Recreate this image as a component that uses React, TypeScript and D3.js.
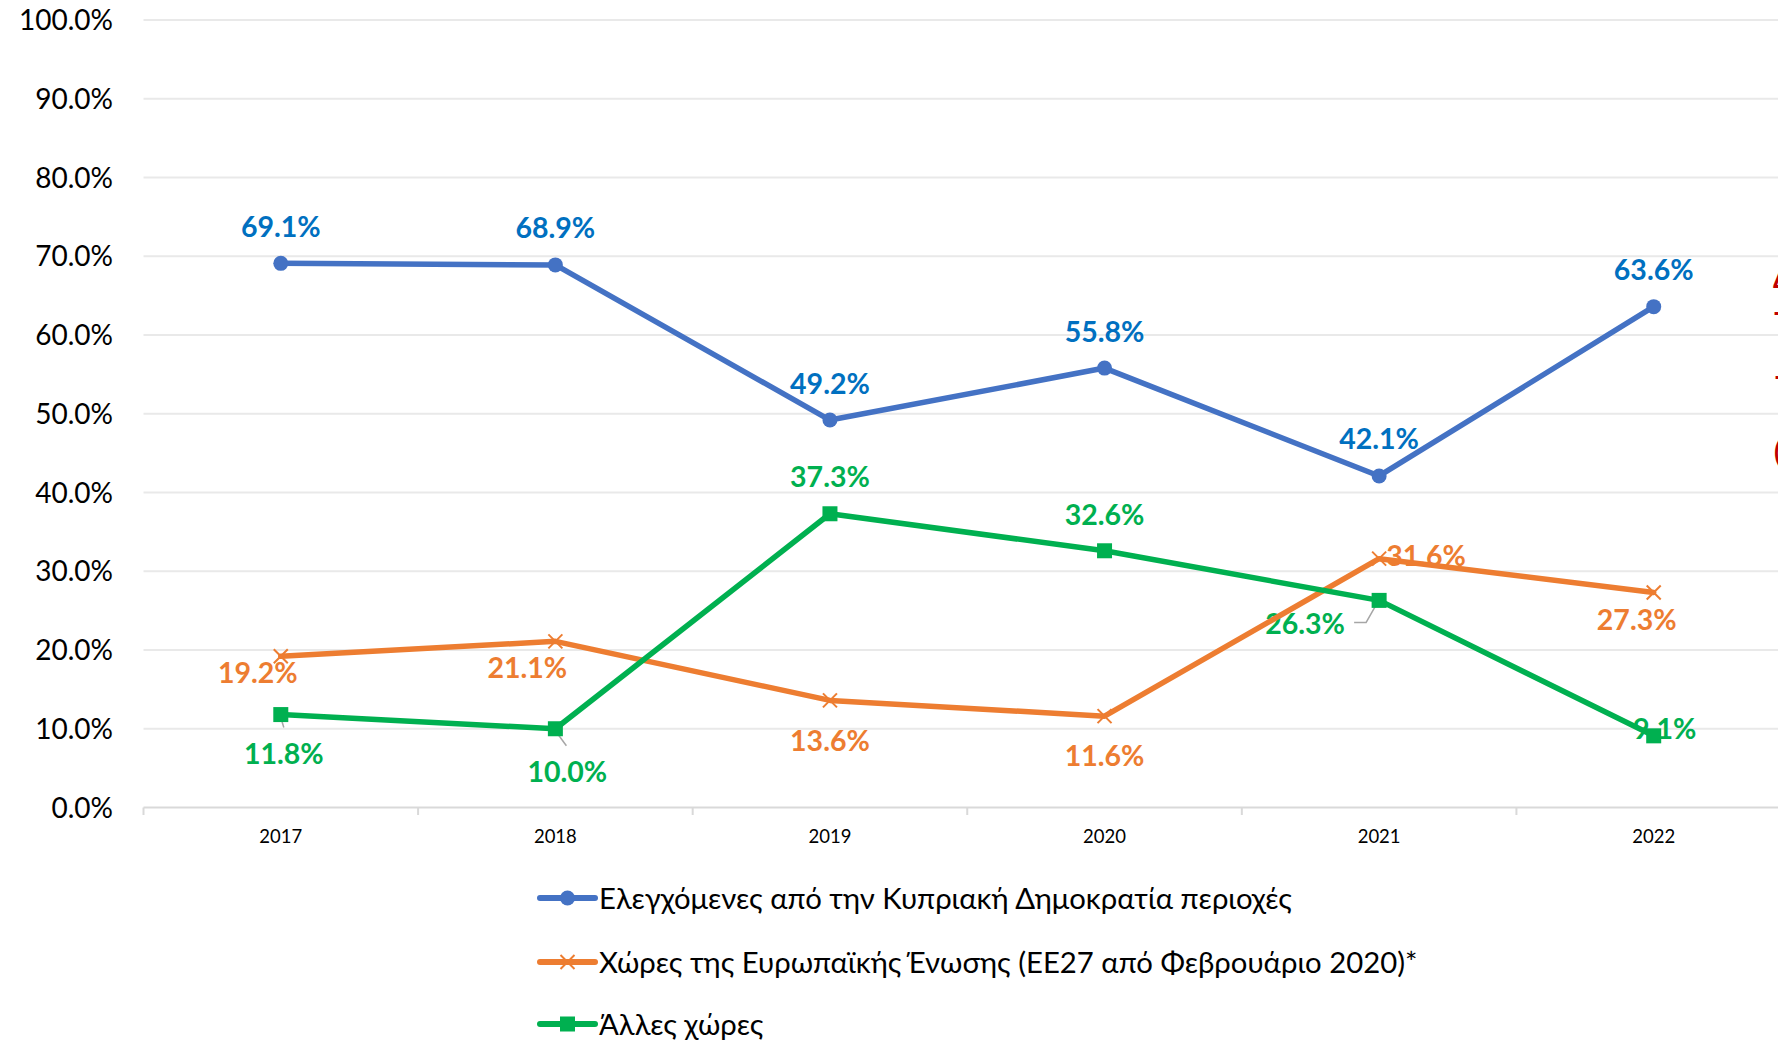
import React from "react";
import * as d3 from "d3";

const years = ["2017", "2018", "2019", "2020", "2021", "2022"];
const yTicks = [0, 0.1, 0.2, 0.3, 0.4, 0.5, 0.6, 0.7, 0.8, 0.9, 1.0];

const seriesNames = [
  "Ελεγχόμενες από την Κυπριακή Δημοκρατία περιοχές",
  "Χώρες της Ευρωπαϊκής Ένωσης (ΕΕ27 από Φεβρουάριο 2020)*",
  "Άλλες χώρες",
];
const controlledAreas = [0.691, 0.689, 0.492, 0.558, 0.421, 0.636];
const euCountries = [0.192, 0.211, 0.136, 0.116, 0.316, 0.273];
const otherCountries = [0.118, 0.1, 0.373, 0.326, 0.263, 0.091];

// layout (label center offsets from point, px)
const blueOffsets = [[0, -36.5], [0, -36.5], [0, -36.5], [0, -36.5], [0, -36.5], [0, -36.5]];
const orangeOffsets = [[-23, 17], [-28, 27], [0, 41], [0, 40], [47, -3], [-17, 27]];
const greenOffsets = [[3, 39], [12, 43], [0, -37], [0, -36], [-74, 24], [11, -7]];
const greenLeaders: (number[][] | null)[] = [
  [[0, 3], [3, 13]],
  [[0, 2], [11, 17]],
  null,
  null,
  [[-1, 1], [-13, 22], [-25, 22]],
  null,
];

const W = 1778;
const H = 1041;
const FONT = "Lato, 'Open Sans', sans-serif";

export default function App() {
  const x = d3.scaleBand<string>().domain(years).range([143.5, 1791]);
  const y = d3.scaleLinear().domain([0, 1]).range([807.5, 20]);
  const cx = (i: number) => (x(years[i]) as number) + x.bandwidth() / 2;
  const fmt = d3.format(".1%");
  const line = d3
    .line<number>()
    .x((_, i) => cx(i))
    .y((d) => y(d));

  const series = [
    { name: seriesNames[0], values: controlledAreas, color: "#4472C4", labelColor: "#0070C0", marker: "circle", offsets: blueOffsets },
    { name: seriesNames[1], values: euCountries, color: "#ED7D31", labelColor: "#ED7D31", marker: "x", offsets: orangeOffsets },
    { name: seriesNames[2], values: otherCountries, color: "#00B050", labelColor: "#00B050", marker: "square", offsets: greenOffsets },
  ];

  const marker = (kind: string, px: number, py: number, color: string, key: string) => {
    if (kind === "circle") return <circle key={key} cx={px} cy={py} r={7.5} fill={color} />;
    if (kind === "square") return <rect key={key} x={px - 7.5} y={py - 7.5} width={15} height={15} fill={color} />;
    const s = 7;
    return (
      <g key={key} stroke={color} strokeWidth={2}>
        <line x1={px - s} y1={py - s} x2={px + s} y2={py + s} />
        <line x1={px - s} y1={py + s} x2={px + s} y2={py - s} />
      </g>
    );
  };

  const legendY = [898, 962, 1024];

  return (
    <svg
      width={W}
      height={H}
      style={{ position: "absolute", left: 0, top: 0, display: "block", background: "#fff" }}
      fontFamily={FONT}
    >
      {/* gridlines */}
      {yTicks.slice(1).map((t) => (
        <line key={"g" + t} x1={143.5} x2={1791} y1={y(t)} y2={y(t)} stroke="#E9E9E9" strokeWidth={2} />
      ))}
      {/* y tick labels */}
      {yTicks.map((t) => (
        <text key={"yt" + t} x={113} y={y(t) + 10} textAnchor="end" fontSize={28} fill="#000">
          {fmt(t)}
        </text>
      ))}
      {/* x axis */}
      <line x1={143.5} x2={1791} y1={807.5} y2={807.5} stroke="#D9D9D9" strokeWidth={2} />
      {years.map((yr) => (
        <line key={"tk" + yr} x1={x(yr)} x2={x(yr)} y1={807.5} y2={815} stroke="#D9D9D9" strokeWidth={2} />
      ))}
      {years.map((yr, i) => (
        <text key={"xl" + yr} x={cx(i)} y={843} textAnchor="middle" fontSize={18.5} fill="#000">
          {yr}
        </text>
      ))}

      {/* leader lines */}
      {greenLeaders.map((ld, i) =>
        ld ? (
          <polyline
            key={"ld" + i}
            points={ld.map(([dx, dy]) => `${cx(i) + dx},${y(otherCountries[i]) + dy}`).join(" ")}
            fill="none"
            stroke="#A6A6A6"
            strokeWidth={1.5}
          />
        ) : null
      )}

      {/* data labels */}
      {series.map((s, si) =>
        s.values.map((v, i) => (
          <text
            key={"dl" + si + "-" + i}
            x={cx(i) + s.offsets[i][0]}
            y={y(v) + s.offsets[i][1] + 10}
            textAnchor="middle"
            fontSize={28.5}
            fontWeight={700}
            fill={s.labelColor}
          >
            {fmt(v)}
          </text>
        ))
      )}

      {/* lines & markers */}
      {series.map((s, si) => (
        <g key={"s" + si}>
          <path d={line(s.values) as string} fill="none" stroke={s.color} strokeWidth={5.5} strokeLinejoin="round" strokeLinecap="round" />
          {s.values.map((v, i) => marker(s.marker, cx(i), y(v), s.color, "m" + si + "-" + i))}
        </g>
      ))}

      {/* cut-off red annotation at right edge */}
      <g fill="#C00000" fontSize={28} fontWeight={700}>
        <text x={1773} y={288}>Δ</text>
        <text x={1773} y={322}>-</text>
        <text x={1774} y={386}>-</text>
        <text x={1774} y={462}>(</text>
      </g>

      {/* legend */}
      {series.map((s, si) => (
        <g key={"lg" + si}>
          <line x1={540} x2={595} y1={legendY[si]} y2={legendY[si]} stroke={s.color} strokeWidth={6} strokeLinecap="round" />
          {marker(s.marker, 567.5, legendY[si], s.color, "lm" + si)}
          <text x={599} y={legendY[si] + 10.5} fontSize={29.3} fill="#000">
            {s.name}
          </text>
        </g>
      ))}
    </svg>
  );
}
